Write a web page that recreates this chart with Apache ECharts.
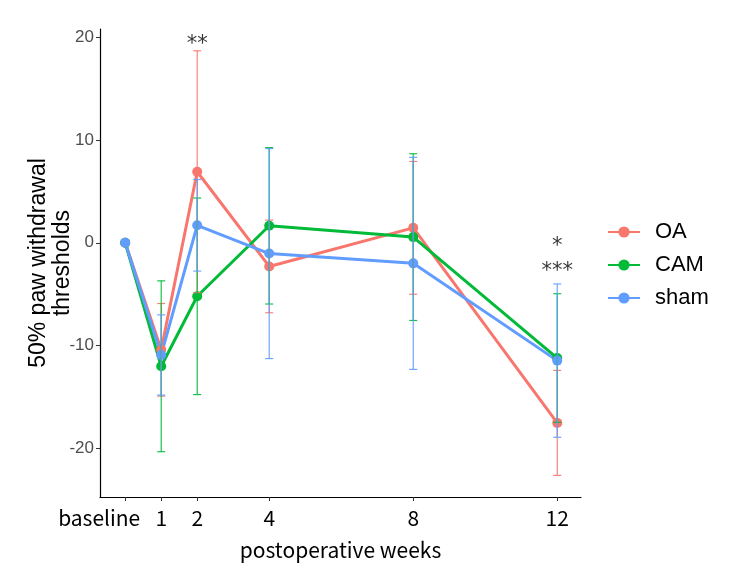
<!DOCTYPE html>
<html>
    <head>
        <meta charset="utf-8">
        <title>paw withdrawal thresholds</title>
        <script src="https://cdn.jsdelivr.net/npm/echarts@6/dist/echarts.min.js"></script>
    </head>
    <body style="margin:0">
        <style>
            html, body, #main {
                width: 750px;
                height: 578px;
                background: #fff;
            }
        </style>
        <div id="main"></div>
        <script>
            // x positions (weeks) and their tick labels
            var weeks = [0, 1, 2, 4, 8, 12];
            var weekLabels = ['baseline', '1', '2', '4', '8', '12'];
            var yTicks = [-20, -10, 0, 10, 20];

            // mean and sd per group
            var oaMean = [0, -10.4, 6.9, -2.3, 1.45, -17.5];
            var oaSd = [0, 4.5, 11.75, 4.5, 6.45, 5.1];
            var camMean = [0, -12.0, -5.2, 1.65, 0.55, -11.2];
            var camSd = [0, 8.3, 9.55, 7.6, 8.1, 6.25];
            var shamMean = [0, -10.9, 1.7, -1.05, -2.0, -11.45];
            var shamSd = [0, 3.9, 4.45, 10.2, 10.3, 7.45];

            // significance marks
            var sigX = [2, 12, 12];
            var sigY = [19.3, -0.4, -2.8];
            var sigText = ['**', '*', '***'];

            var groups = [
                {name: 'OA', color: '#F8766D', mean: oaMean, sd: oaSd},
                {name: 'CAM', color: '#00BA38', mean: camMean, sd: camSd},
                {name: 'sham', color: '#619CFF', mean: shamMean, sd: shamSd}
            ];

            var chart = echarts.init(document.getElementById('main'));

            var series = [];
            groups.forEach(function (g) {
                series.push({
                    name: g.name,
                    type: 'line',
                    z: 2,
                    symbol: 'circle',
                    symbolSize: 10,
                    color: g.color,
                    lineStyle: {width: 3, color: g.color},
                    itemStyle: {color: g.color},
                    data: weeks.map(function (w, i) { return [w, g.mean[i]]; })
                });
            });
            groups.forEach(function (g) {
                series.push({
                    name: g.name + ' sd',
                    type: 'custom',
                    z: 3,
                    encode: {x: 0, y: 1},
                    data: weeks.map(function (w, i) { return [w, g.mean[i], g.sd[i]]; }),
                    renderItem: function (params, api) {
                        var x = api.value(0), m = api.value(1), s = api.value(2);
                        if (!s) return null;
                        var top = api.coord([x, m + s]);
                        var bot = api.coord([x, m - s]);
                        var hw = 4;
                        var st = {stroke: g.color, lineWidth: 1.2, opacity: 0.9};
                        return {
                            type: 'group',
                            children: [
                                {type: 'line', shape: {x1: top[0], y1: top[1], x2: bot[0], y2: bot[1]}, style: st},
                                {type: 'line', shape: {x1: top[0] - hw, y1: top[1], x2: top[0] + hw, y2: top[1]}, style: st},
                                {type: 'line', shape: {x1: bot[0] - hw, y1: bot[1], x2: bot[0] + hw, y2: bot[1]}, style: st}
                            ]
                        };
                    }
                });
            });
            series.push({
                name: 'sig',
                type: 'scatter',
                symbolSize: 0,
                silent: true,
                data: sigX.map(function (x, i) { return {value: [x, sigY[i]], label: {formatter: sigText[i]}}; }),
                label: {
                    show: true,
                    position: 'inside',
                    color: '#000',
                    fontSize: 21,
                    fontFamily: 'DejaVu Sans'
                }
            });

            chart.setOption({
                animation: false,
                backgroundColor: '#fff',
                grid: {left: 100, right: 169, top: 29, bottom: 81},
                legend: {
                    data: ['OA', 'CAM', 'sham'],
                    orient: 'vertical',
                    left: 602,
                    top: 216,
                    itemWidth: 32,
                    itemHeight: 14,
                    itemGap: 11,
                    textStyle: {fontSize: 22, color: '#000', fontFamily: 'Liberation Sans', padding: [0, 0, 0, 10]}
                },
                xAxis: {
                    type: 'value',
                    min: -0.7,
                    max: 12.66,
                    name: 'postoperative weeks',
                    nameLocation: 'middle',
                    nameMoveOverlap: false,
                    nameGap: 43,
                    nameTextStyle: {fontSize: 21, color: '#000', fontFamily: 'Noto Sans CJK JP'},
                    splitLine: {show: false},
                    axisLine: {onZero: false, lineStyle: {color: '#000', width: 1.2}},
                    axisTick: {customValues: weeks, length: 4, lineStyle: {color: '#333'}},
                    axisLabel: {
                        customValues: weeks,
                        color: '#000',
                        fontSize: 21,
                        fontFamily: 'Noto Sans CJK JP',
                        margin: 11,
                        formatter: function (v) {
                            var i = weeks.indexOf(v);
                            if (i === 0) return '{b|' + weekLabels[0] + '}';
                            return i >= 0 ? weekLabels[i] : '';
                        },
                        rich: {
                            b: {fontSize: 21, fontFamily: 'Noto Sans CJK JP', color: '#000', padding: [0, 52, 0, 0]}
                        }
                    }
                },
                yAxis: {
                    type: 'value',
                    min: -24.7,
                    max: 20.77,
                    name: '50% paw withdrawal\nthresholds',
                    nameLocation: 'middle',
                    nameMoveOverlap: false,
                    nameRotate: 90,
                    nameGap: 25,
                    nameTextStyle: {fontSize: 23, color: '#000', fontFamily: 'Liberation Sans', lineHeight: 24},
                    splitLine: {show: false},
                    axisLine: {show: true, onZero: false, lineStyle: {color: '#000', width: 1.2}},
                    axisTick: {show: true, customValues: yTicks, length: 4, lineStyle: {color: '#333'}},
                    axisLabel: {customValues: yTicks, color: '#4D4D4D', fontSize: 17, fontFamily: 'Liberation Sans', margin: 6}
                },
                series: series
            });
        </script>
    </body>
</html>
